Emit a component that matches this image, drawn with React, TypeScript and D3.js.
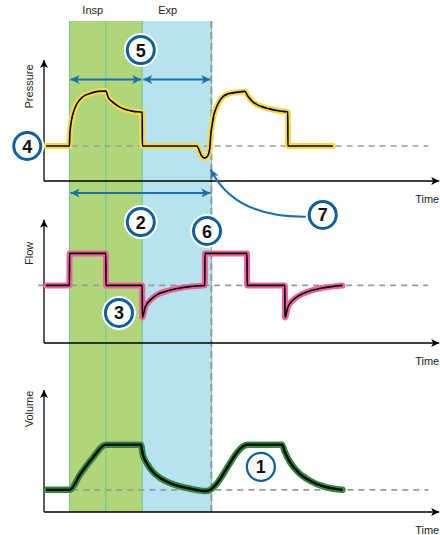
import React from "react";
import * as d3 from "d3";

// breath phases, in seconds
const inspStart = 0.35;
const inspMid = 0.85;
const expStart = 1.35;
const expEnd = 2.3;
const phaseLabels = [
  { text: "Insp", t: 0.67 },
  { text: "Exp", t: 1.7 },
];

// pressure (cmH2O) against time (s)
const pressureTrace: [number, number][] = [
  [0.03, 10], [0.35, 10], [0.353, 12.5], [0.362, 15], [0.38, 17.6], [0.41, 20], [0.45, 22],
  [0.53, 24], [0.63, 25], [0.74, 25.6], [0.85, 25.7], [0.88, 24], [0.94, 22.6],
  [1.02, 21.4], [1.12, 20.4], [1.23, 19.9], [1.35, 19.6], [1.351, 10], [2.1, 10],
  [2.13, 8.9], [2.16, 7.4], [2.2, 6.6], [2.24, 6.9], [2.27, 8.3], [2.28, 10],
  [2.293, 13.5], [2.31, 16], [2.33, 18.5], [2.36, 20.6], [2.42, 23.1], [2.53, 24.9],
  [2.67, 25.4], [2.76, 25.6], [2.8, 24.3], [2.87, 22.6], [2.97, 21.4], [3.1, 20.6],
  [3.24, 20], [3.35, 19.7], [3.351, 10], [3.97, 10],
];

// flow (L/s) against time (s)
const flowTrace: [number, number][] = [
  [0.03, 0], [0.35, 0], [0.351, 1], [0.85, 1], [0.851, 0], [1.35, 0], [1.351, -1],
  [1.39, -0.68], [1.46, -0.46], [1.57, -0.27], [1.7, -0.17], [1.87, -0.08],
  [2.03, -0.03], [2.21, 0], [2.211, 1], [2.79, 1], [2.791, 0], [3.31, 0], [3.311, -1],
  [3.35, -0.68], [3.42, -0.46], [3.52, -0.3], [3.66, -0.17], [3.82, -0.08],
  [3.98, -0.03], [4.1, 0],
];

// volume (L) against time (s)
const volumeTrace: [number, number][] = [
  [0.03, 0.245], [0.35, 0.245], [0.5, 0.42], [0.67, 0.6], [0.85, 0.745], [1.33, 0.745],
  [1.36, 0.63], [1.42, 0.53], [1.5, 0.44], [1.62, 0.365], [1.8, 0.3], [2.0, 0.26],
  [2.23, 0.232], [2.8, 0.745], [3.27, 0.745], [3.31, 0.664], [3.38, 0.553],
  [3.49, 0.442], [3.66, 0.343], [3.86, 0.277], [4.1, 0.245],
];

const baselines = { pressure: 10, flow: 0, volume: 0.245 };

// numbered callouts
const callouts = [
  { n: "4", panel: "pressure", t: -0.23, v: 10 },
  { n: "5", panel: "pressure", t: 1.33, v: 37.4 },
  { n: "7", panel: "pressure", t: 3.83, v: -9.7 },
  { n: "2", panel: "flow", t: 1.33, v: 1.98 },
  { n: "6", panel: "flow", t: 2.24, v: 1.7 },
  { n: "3", panel: "flow", t: 1.03, v: -0.86 },
  { n: "1", panel: "volume", t: 2.98, v: 0.5 },
];

const x = d3.scaleLinear().domain([0, 5.4]).range([44, 437]);

const panels = [
  { key: "pressure", label: "Pressure", trace: pressureTrace, halo: "#f7d948", haloW: 6, lineW: 1.6,
    y: d3.scaleLinear().domain([0, 34]).range([181, 62]), top: 34.6, dashFrom: 0.38, labelShift: 34 },
  { key: "flow", label: "Flow", trace: flowTrace, halo: "#e9639c", haloW: 6, lineW: 1.6,
    y: d3.scaleLinear().domain([-1.8, 2.0]).range([343, 221.4]), top: 2.05, dashFrom: -0.08, labelShift: 28 },
  { key: "volume", label: "Volume", trace: volumeTrace, halo: "#2e8a3e", haloW: 6.5, lineW: 2.4,
    y: d3.scaleLinear().domain([0, 1.35]).range([512, 390]), top: 1.35, dashFrom: 0.39, labelShift: 42 },
];

const scaleOf = (key: string) => panels.find((p) => p.key === key)!.y;

export default function App() {
  const bandTop = 21;
  const bandBottom = 512;
  const blue = "#1c6fb0";
  const pY = scaleOf("pressure");

  return (
    <svg width={440} height={535} style={{ position: "absolute", left: 0, top: 0 }}
      fontFamily="'Liberation Sans', Arial, sans-serif">
      <defs>
        <marker id="ax" viewBox="0 0 10 10" refX="10" refY="5" markerWidth="9" markerHeight="8"
          markerUnits="userSpaceOnUse" orient="auto">
          <path d="M0,0 L10,5 L0,10 L2.5,5 z" fill="#000" />
        </marker>
        <marker id="bl" viewBox="0 0 10 10" refX="10" refY="5" markerWidth="11" markerHeight="9"
          markerUnits="userSpaceOnUse" orient="auto-start-reverse">
          <path d="M0,0 L10,5 L0,10 L2.5,5 z" fill={blue} />
        </marker>
      </defs>

      {/* phase bands */}
      <rect x={x(inspStart)} y={bandTop} width={x(expStart) - x(inspStart)} height={bandBottom - bandTop} fill="#b1d67a" />
      <rect x={x(expStart)} y={bandTop} width={x(expEnd) - x(expStart)} height={bandBottom - bandTop} fill="#b7e3ef" />
      {[inspStart, inspMid, expStart, expEnd].map((t, i) => (
        <line key={i} x1={x(t)} x2={x(t)} y1={bandTop} y2={bandBottom} stroke="#62c69a" strokeWidth={1} />
      ))}
      <line x1={x(expEnd)} x2={x(expEnd)} y1={bandTop} y2={bandBottom} stroke="#999" strokeWidth={2} strokeDasharray="7,4" />
      {phaseLabels.map((d) => (
        <text key={d.text} x={x(d.t)} y={14} fontSize={11} textAnchor="middle" fill="#222">{d.text}</text>
      ))}

      {panels.map((p) => {
        const line = d3.line<[number, number]>()
          .x((d) => x(d[0]))
          .y((d) => p.y(d[1]))
          .curve(d3.curveMonotoneX);
        const y0 = p.y.range()[0];
        const base = p.y(baselines[p.key as keyof typeof baselines]);
        return (
          <g key={p.key}>
            <line x1={x(p.dashFrom)} x2={x(5.28)} y1={base} y2={base} stroke="#9a9a9a" strokeWidth={1.6} strokeDasharray="6,5" />
            <line x1={x(0)} x2={x(0)} y1={y0} y2={p.y(p.top)} stroke="#000" strokeWidth={1.3} markerEnd="url(#ax)" />
            <line x1={x(0)} x2={x(5.43)} y1={y0} y2={y0} stroke="#000" strokeWidth={1.3} markerEnd="url(#ax)" />
            <text transform={`translate(33,${(y0 + p.y(p.top)) / 2 - p.labelShift}) rotate(-90)`}
              fontSize={11} textAnchor="middle" fill="#222">{p.label}</text>
            <text x={x(5.43)} y={y0 + 22} fontSize={11} textAnchor="end" fill="#222">Time</text>
            <path d={line(p.trace) ?? ""} fill="none" stroke={p.halo} strokeWidth={p.haloW} strokeLinejoin="round" strokeLinecap="round" />
            <path d={line(p.trace) ?? ""} fill="none" stroke="#000" strokeWidth={p.lineW} strokeLinejoin="round" />
          </g>
        );
      })}

      {/* timing arrows */}
      <line x1={x(inspStart) + 1} x2={x(expStart) - 1} y1={pY(29)} y2={pY(29)} stroke={blue} strokeWidth={2}
        markerStart="url(#bl)" markerEnd="url(#bl)" />
      <line x1={x(expStart) + 1} x2={x(expEnd) - 1} y1={pY(29)} y2={pY(29)} stroke={blue} strokeWidth={2}
        markerStart="url(#bl)" markerEnd="url(#bl)" />
      <line x1={x(inspStart) + 1} x2={x(expEnd) - 1} y1={pY(-3.4)} y2={pY(-3.4)} stroke={blue} strokeWidth={2}
        markerStart="url(#bl)" markerEnd="url(#bl)" />
      <path d={`M${x(3.62)},${pY(-10.2)} Q${x(2.62)},${pY(-10.6)} ${x(2.29)},${pY(3.3)}`} fill="none"
        stroke={blue} strokeWidth={2} markerEnd="url(#bl)" />

      {callouts.map((c) => {
        const cx = x(c.t);
        const cy = scaleOf(c.panel)(c.v);
        const thin = c.n === "1";
        return (
          <g key={c.n}>
            {!thin && <circle cx={cx} cy={cy} r={14} fill="#fff" stroke="#fff" strokeWidth={6} />}
            <circle cx={cx} cy={cy} r={thin ? 14 : 13.5} fill={thin ? "none" : "#fff"} stroke="#0d5f9f" strokeWidth={thin ? 2.2 : 3} />
            <text x={cx} y={cy + 6.5} fontSize={18} fontWeight="bold" textAnchor="middle" fill="#111">{c.n}</text>
          </g>
        );
      })}
    </svg>
  );
}
